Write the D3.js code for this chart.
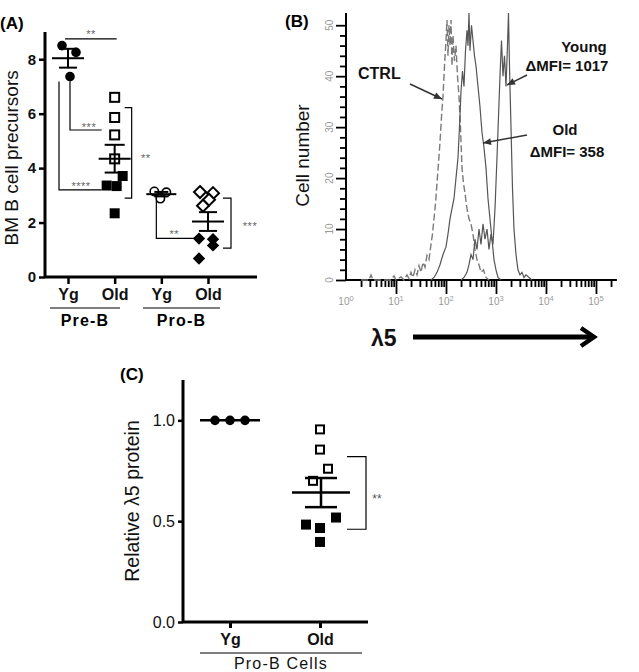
<!DOCTYPE html>
<html><head><meta charset="utf-8">
<script src="https://cdn.jsdelivr.net/npm/d3@7"></script>
<style>
body{margin:0;background:#fff;}
svg text{font-family:Arial,"Liberation Sans",Helvetica,sans-serif;}
</style></head>
<body><svg id="fig" width="639" height="672"></svg>
<script>
// ---------- Panel A data ----------
const categoriesA = ["Pre-B Yg","Pre-B Old","Pro-B Yg","Pro-B Old"];
const tickLabelsA = ["Yg","Old","Yg","Old"];
const groupLabelsA = ["Pre-B","Pro-B"];
const preBYoung = [8.50, 8.25, 7.36];
const preBYoungDx = [-6, 8, 2];
const preBOldOpenVals = [6.60, 5.86, 5.22, 4.34];
const preBOldOpenDx = [0, 0, 0, 0];
const preBOldFilledVals = [3.71, 3.36, 3.34, 2.34];
const preBOldFilledDx = [8, -8, 2, 0];
const proBYoung = [3.14, 3.11, 2.88];
const proBYoungDx = [-7, 5, -1];
const proBOldOpenVals = [3.12, 3.08, 2.84, 2.62];
const proBOldOpenDx = [-8, 5, 1, -5];
const proBOldFilledVals = [1.41, 1.39, 1.16, 0.68];
const proBOldFilledDx = [-9, 5, 5, -9];
const yTickValsA = [0, 2, 4, 6, 8];

// ---------- Panel B data (log10 intensity, cell count) ----------
const ctrlCounts = [[0.30,0],[0.46,0],[0.50,1],[0.54,0],[0.90,0],[0.96,0.8],[1.00,0],[1.10,0.6],[1.16,0],[1.22,1],[1.26,0.3],[1.30,1.5],[1.34,0.5],
 [1.38,2],[1.42,1],[1.46,2.8],[1.50,1.5],[1.54,3.5],[1.58,2.5],[1.62,4.8],[1.66,4],[1.70,7],[1.73,9],[1.76,12],[1.79,15],
 [1.82,19],[1.85,23],[1.88,27],[1.91,32],[1.94,36],[1.97,42],[2.00,47],[2.02,51],[2.04,44],[2.06,50],[2.08,46],[2.10,51],
 [2.12,42],[2.14,48],[2.17,43],[2.20,46],[2.23,40],[2.26,36],[2.29,30],[2.32,22],[2.35,19],[2.38,17],[2.42,14],[2.46,12],
 [2.50,11],[2.54,9],[2.58,6],[2.62,4],[2.66,3],[2.70,1.5],[2.75,2],[2.80,0.5],[2.86,0]];
const oldCounts = [[1.70,0],[1.76,0.5],[1.82,1.5],[1.88,3],[1.94,5],[2.00,6.5],[2.04,9],[2.08,12],[2.12,14],[2.16,16],[2.20,20],
 [2.24,24],[2.27,30],[2.30,37],[2.33,41],[2.36,38],[2.39,45],[2.42,49],[2.44,46],[2.46,53],[2.48,45],[2.51,50],[2.54,47],
 [2.57,44],[2.60,42],[2.64,38],[2.68,34],[2.72,29],[2.76,26],[2.80,22],[2.84,16],[2.88,12],[2.92,8],[2.96,4],[3.00,2],[3.04,0.5],[3.10,0]];
const youngCounts = [[2.30,0],[2.36,0.5],[2.42,1.5],[2.46,3],[2.50,5],[2.54,4],[2.58,8],[2.62,6],[2.66,10],[2.70,7],[2.74,11],
 [2.78,8],[2.82,10],[2.86,6],[2.90,9],[2.94,7],[2.98,14],[3.02,24],[3.05,32],[3.08,40],[3.11,47],[3.14,40],[3.17,44],
 [3.20,38],[3.23,46],[3.25,53],[3.27,42],[3.30,30],[3.33,18],[3.36,10],[3.40,5],[3.44,2],[3.48,1],[3.52,1.5],[3.56,0.5],[3.60,1],[3.66,0.5],[3.72,0]];
const xDecadesB = [0, 1, 2, 3, 4, 5];
const yTickValsB = [0, 10, 20, 30, 40, 50];

// ---------- Panel C data ----------
const categoriesC = ["Yg","Old"];
const cYoung = [1.0, 1.0, 1.0];
const cYoungDx = [-15, 0, 15];
const cOldOpenVals = [0.955, 0.855, 0.76, 0.70];
const cOldOpenDx = [0, 0, 8, -7];
const cOldFilledVals = [0.518, 0.483, 0.466, 0.397];
const cOldFilledDx = [16, -14, 0, 0];
const yTickValsC = [0.0, 0.5, 1.0];

const svg = d3.select("#fig");
const mean = a => d3.mean(a);
const sem = a => d3.deviation(a) / Math.sqrt(a.length);

// ================= PANEL B (drawn first) =================
const panelB = svg.append("g");
const xB = d3.scaleLog().domain([1, 262144]).range([346, 616.9]);
const yB = d3.scaleLinear().domain([0, 52.4]).range([280, 13]).clamp(true);
const yMinorB = d3.range(0, 52, 2);
const minorB = [];
for (let e = 0; e <= 5; e++) for (let k = 1; k <= 9; k++) { const v = k * Math.pow(10, e); if (v <= 262144 && v > 1) minorB.push(v); }
const isMajor = d => Math.abs(Math.log10(d) - Math.round(Math.log10(d))) < 1e-9;

const bAxisY = panelB.append("g").attr("transform", `translate(${xB(1)},0)`)
  .call(d3.axisLeft(yB).tickValues(yMinorB).tickSize(6).tickFormat(() => ""));
bAxisY.select(".domain").attr("d", `M0,${yB(52.4)}V${yB(0)}`).attr("stroke", "#000").attr("stroke-width", 2);
bAxisY.selectAll(".tick line").attr("stroke", "#000").attr("stroke-width", 1.8).attr("x2", d => d % 10 === 0 ? -10 : -6);

const bAxisX = panelB.append("g").attr("transform", `translate(0,${yB(0)})`)
  .call(d3.axisBottom(xB).tickValues(minorB).tickSize(7).tickFormat(() => ""));
bAxisX.select(".domain").attr("d", `M${xB(1)},0H${xB(262144)}`).attr("stroke", "#000").attr("stroke-width", 2);
bAxisX.selectAll(".tick line").attr("stroke", "#000").attr("stroke-width", 1.8).attr("y2", d => isMajor(d) ? 14 : 7);

panelB.selectAll(".blab").data(yTickValsB).join("text").attr("class", "blab")
  .attr("transform", d => `translate(${xB(1) - 13},${yB(d)}) rotate(-90)`).attr("text-anchor", "middle")
  .attr("font-size", 10).attr("fill", "#999").text(d => d);
const xLab = panelB.selectAll(".bxl").data(xDecadesB).join("text").attr("class", "bxl")
  .attr("x", d => xB(Math.pow(10, d))).attr("y", yB(0) + 25).attr("text-anchor", "middle")
  .attr("font-size", 10).attr("fill", "#999");
xLab.append("tspan").text("10");
xLab.append("tspan").attr("dy", -4).attr("font-size", 7.5).text(d => d);

const lineB = d3.line().x(d => xB(Math.pow(10, d[0]))).y(d => yB(d[1]));
panelB.append("path").attr("d", lineB(ctrlCounts)).attr("fill", "none").attr("stroke", "#7a7a7a").attr("stroke-width", 1.4).attr("stroke-dasharray", "7,3");
panelB.append("path").attr("d", lineB(oldCounts)).attr("fill", "none").attr("stroke", "#555").attr("stroke-width", 1.2);
panelB.append("path").attr("d", lineB(youngCounts)).attr("fill", "none").attr("stroke", "#555").attr("stroke-width", 1.2);

panelB.append("text").attr("x", 285).attr("y", 27).attr("font-size", 17).attr("font-weight", "bold").text("(B)");
panelB.append("text").attr("transform", `translate(309,${(yB(52) + yB(0)) / 2 + 8}) rotate(-90)`)
  .attr("text-anchor", "middle").attr("font-size", 19).attr("fill", "#111").text("Cell number");

const arrowB = (x1, y1, x2, y2) => {
  panelB.append("line").attr("x1", x1).attr("y1", y1).attr("x2", x2).attr("y2", y2).attr("stroke", "#333").attr("stroke-width", 1.5);
  const a = Math.atan2(y2 - y1, x2 - x1) * 180 / Math.PI;
  panelB.append("path").attr("d", "M0,0L-8,-3.5L-8,3.5Z").attr("fill", "#333")
    .attr("transform", `translate(${x2},${y2}) rotate(${a})`);
};
const labB = (x, y, t, anchor = "start", fs = 15) => panelB.append("text").attr("x", x).attr("y", y).attr("text-anchor", anchor)
  .attr("font-size", fs).attr("font-weight", "bold").attr("fill", "#111").text(t);
labB(358, 79, "CTRL", "start", 16);
arrowB(410, 84, 442, 99);
labB(584, 52, "Young", "middle");
labB(567, 71, "ΔMFI= 1017", "middle");
arrowB(527, 75, 507, 85);
labB(565, 135, "Old", "middle");
labB(567, 157, "ΔMFI= 358", "middle");
arrowB(527, 135, 483, 143);

panelB.append("text").attr("x", 371).attr("y", 346).attr("font-size", 23).attr("font-weight", "bold").attr("fill", "#111").text("λ5");
panelB.append("rect").attr("x", 413).attr("y", 334.5).attr("width", 178).attr("height", 5).attr("fill", "#000");
panelB.append("path").attr("d", "M581,328L594,337L581,346").attr("fill", "none").attr("stroke", "#000").attr("stroke-width", 4.5);

// ================= PANEL A =================
const panelA = svg.append("g");
const xA = d3.scalePoint().domain(categoriesA).range([68, 208]);
const yA = d3.scaleLinear().domain([0, 9]).range([277, 32]);

panelA.append("text").attr("x", 0).attr("y", 29).attr("font-size", 17).attr("font-weight", "bold").text("(A)");

const aAxisY = panelA.append("g").attr("transform", "translate(45,0)")
  .call(d3.axisLeft(yA).tickValues(yTickValsA).tickFormat(d3.format("d")).tickSize(6).tickPadding(3));
aAxisY.select(".domain").attr("d", `M0,${yA(9)}V${yA(0)}`).attr("stroke-width", 3);
aAxisY.selectAll(".tick line").attr("stroke-width", 2.5);
aAxisY.selectAll(".tick text").attr("font-size", 15).attr("font-weight", "bold").attr("fill", "#111");

const aAxisX = panelA.append("g").attr("transform", `translate(0,${yA(0)})`)
  .call(d3.axisBottom(xA).tickSize(7).tickFormat((d, i) => tickLabelsA[i]).tickPadding(5));
aAxisX.select(".domain").attr("d", "M45,0H257").attr("stroke-width", 3);
aAxisX.selectAll(".tick line").attr("stroke-width", 2.5);
aAxisX.selectAll(".tick text").attr("font-size", 16).attr("font-weight", "bold").attr("fill", "#111");

[[50, 120, groupLabelsA[0]], [143, 220, groupLabelsA[1]]].forEach(([a, b, t]) => {
  panelA.append("line").attr("x1", a).attr("x2", b).attr("y1", 308).attr("y2", 308).attr("stroke", "#000").attr("stroke-width", 1.2);
  panelA.append("text").attr("x", (a + b) / 2).attr("y", 326).attr("text-anchor", "middle")
    .attr("font-size", 16).attr("font-weight", "bold").attr("letter-spacing", 1.2).text(t);
});

panelA.append("text").attr("transform", `translate(18,${(yA(8.9) + yA(0)) / 2 + 2}) rotate(-90)`)
  .attr("text-anchor", "middle").attr("font-size", 19).attr("fill", "#111").text("BM B cell precursors");

function meanBarA(x, vals, halfW, capW) {
  const m = mean(vals), s = sem(vals);
  panelA.append("line").attr("x1", x - halfW).attr("x2", x + halfW).attr("y1", yA(m)).attr("y2", yA(m)).attr("stroke", "#000").attr("stroke-width", 2);
  panelA.append("line").attr("x1", x).attr("x2", x).attr("y1", yA(m - s)).attr("y2", yA(m + s)).attr("stroke", "#000").attr("stroke-width", 2);
  [m - s, m + s].forEach(v => panelA.append("line").attr("x1", x - capW).attr("x2", x + capW).attr("y1", yA(v)).attr("y2", yA(v)).attr("stroke", "#000").attr("stroke-width", 2));
}
const diamond = r => `M0,${-r}L${r},0L0,${r}L${-r},0Z`;

panelA.selectAll(".a0").data(preBYoung).join("circle").attr("class", "a0")
  .attr("cx", (d, i) => xA(categoriesA[0]) + preBYoungDx[i]).attr("cy", d => yA(d)).attr("r", 4.8).attr("fill", "#000");
meanBarA(xA(categoriesA[0]), preBYoung, 16, 9);
panelA.selectAll(".a1").data(preBOldOpenVals).join("rect").attr("class", "a1")
  .attr("x", (d, i) => xA(categoriesA[1]) + preBOldOpenDx[i] - 4.5).attr("y", d => yA(d) - 4.5)
  .attr("width", 9).attr("height", 9).attr("fill", "#fff").attr("stroke", "#000").attr("stroke-width", 2);
panelA.selectAll(".a2").data(preBOldFilledVals).join("rect").attr("class", "a2")
  .attr("x", (d, i) => xA(categoriesA[1]) + preBOldFilledDx[i] - 5).attr("y", d => yA(d) - 5)
  .attr("width", 10).attr("height", 10).attr("fill", "#000");
meanBarA(xA(categoriesA[1]), preBOldOpenVals.concat(preBOldFilledVals), 16, 10);
panelA.selectAll(".a3").data(proBYoung).join("circle").attr("class", "a3")
  .attr("cx", (d, i) => xA(categoriesA[2]) + proBYoungDx[i]).attr("cy", d => yA(d)).attr("r", 4.2)
  .attr("fill", "#fff").attr("stroke", "#000").attr("stroke-width", 1.6);
meanBarA(xA(categoriesA[2]), proBYoung, 15, 7);
panelA.selectAll(".a4").data(proBOldOpenVals).join("path").attr("class", "a4")
  .attr("transform", (d, i) => `translate(${xA(categoriesA[3]) + proBOldOpenDx[i]},${yA(d)})`).attr("d", diamond(6))
  .attr("fill", "#fff").attr("stroke", "#000").attr("stroke-width", 2);
panelA.selectAll(".a5").data(proBOldFilledVals).join("path").attr("class", "a5")
  .attr("transform", (d, i) => `translate(${xA(categoriesA[3]) + proBOldFilledDx[i]},${yA(d)})`).attr("d", diamond(6.2))
  .attr("fill", "#000");
meanBarA(xA(categoriesA[3]), proBOldOpenVals.concat(proBOldFilledVals), 16, 9);

const bracket = d => panelA.append("path").attr("d", d).attr("fill", "none").attr("stroke", "#000").attr("stroke-width", 1.2);
const stars = (x, y, t) => panelA.append("text").attr("x", x).attr("y", y).attr("text-anchor", "middle")
  .attr("font-size", 11).attr("fill", "#666").attr("letter-spacing", 0.5).text(t);
const xa = i => xA(categoriesA[i]);
bracket(`M${xa(0) - 3},${yA(8.75)}H${xa(1) + 2}`); stars(xa(0) + 23, yA(8.75) - 1, "**");
bracket(`M${xa(0) + 2},${yA(7.18)}V${yA(5.4)}H${xa(1) - 13}`); stars(xa(0) + 21, yA(5.4) + 1, "***");
bracket(`M${xa(0) - 9},${yA(7.18)}V${yA(3.2)}H${xa(1) - 13}`); stars(xa(0) + 13, yA(3.2), "****");
bracket(`M${xa(1) + 10},${yA(6.22)}H${xa(1) + 17}V${yA(2.9)}H${xa(1) + 10}`); stars(xa(1) + 31, yA(4.5) + 7, "**");
bracket(`M${xa(2) - 5},${yA(2.82)}V${yA(1.42)}H${xa(3) - 11}`); stars(xa(2) + 13, yA(1.42), "**");
bracket(`M${xa(3) + 15},${yA(2.9)}H${xa(3) + 23}V${yA(1.06)}H${xa(3) + 15}`); stars(xa(3) + 42, yA(1.98) + 7, "***");

// ================= PANEL C =================
const panelC = svg.append("g");
const xC = d3.scalePoint().domain(categoriesC).range([230, 320]);
const yC = d3.scaleLinear().domain([0, 1.2]).range([622, 380]);

panelC.append("text").attr("x", 120).attr("y", 380).attr("font-size", 17).attr("font-weight", "bold").text("(C)");

const cAxisY = panelC.append("g").attr("transform", "translate(183,0)")
  .call(d3.axisLeft(yC).tickValues(yTickValsC).tickFormat(d3.format(".1f")).tickSize(5).tickPadding(3));
cAxisY.select(".domain").attr("d", `M0,${yC(1.2)}V${yC(0)}`).attr("stroke-width", 3);
cAxisY.selectAll(".tick line").attr("stroke-width", 2.5);
cAxisY.selectAll(".tick text").attr("font-size", 16).attr("fill", "#111");

const cAxisX = panelC.append("g").attr("transform", `translate(0,${yC(0)})`)
  .call(d3.axisBottom(xC).tickSize(6).tickPadding(6));
cAxisX.select(".domain").attr("d", "M183,0H368").attr("stroke-width", 3);
cAxisX.selectAll(".tick line").attr("stroke-width", 3);
cAxisX.selectAll(".tick text").attr("font-size", 16).attr("font-weight", "bold").attr("fill", "#111");

panelC.append("line").attr("x1", 200).attr("x2", 362).attr("y1", 653).attr("y2", 653).attr("stroke", "#000").attr("stroke-width", 1.2);
panelC.append("text").attr("x", 281).attr("y", 669).attr("text-anchor", "middle").attr("font-size", 16)
  .attr("letter-spacing", 1.2).attr("fill", "#111").text("Pro-B Cells");
panelC.append("text").attr("transform", `translate(139,${(yC(1.2) + yC(0)) / 2}) rotate(-90)`)
  .attr("text-anchor", "middle").attr("font-size", 19.5).attr("fill", "#111").text("Relative λ5 protein");

function meanBarC(x, vals, halfW, capW) {
  const m = mean(vals), s = sem(vals);
  panelC.append("line").attr("x1", x - halfW).attr("x2", x + halfW).attr("y1", yC(m)).attr("y2", yC(m)).attr("stroke", "#000").attr("stroke-width", 2.5);
  if (s > 0) {
    panelC.append("line").attr("x1", x).attr("x2", x).attr("y1", yC(m - s)).attr("y2", yC(m + s)).attr("stroke", "#000").attr("stroke-width", 2.5);
    [m - s, m + s].forEach(v => panelC.append("line").attr("x1", x - capW).attr("x2", x + capW).attr("y1", yC(v)).attr("y2", yC(v)).attr("stroke", "#000").attr("stroke-width", 2.5));
  }
}
meanBarC(xC("Yg"), cYoung, 30, 0);
panelC.selectAll(".c0").data(cYoung).join("circle").attr("class", "c0")
  .attr("cx", (d, i) => xC("Yg") + cYoungDx[i]).attr("cy", d => yC(d)).attr("r", 4.8).attr("fill", "#000");
panelC.selectAll(".c1").data(cOldOpenVals).join("rect").attr("class", "c1")
  .attr("x", (d, i) => xC("Old") + cOldOpenDx[i] - 4).attr("y", d => yC(d) - 4)
  .attr("width", 8).attr("height", 8).attr("fill", "#fff").attr("stroke", "#000").attr("stroke-width", 2);
panelC.selectAll(".c2").data(cOldFilledVals).join("rect").attr("class", "c2")
  .attr("x", (d, i) => xC("Old") + cOldFilledDx[i] - 5).attr("y", d => yC(d) - 5)
  .attr("width", 10).attr("height", 10).attr("fill", "#000");
meanBarC(xC("Old") + 1, cOldOpenVals.concat(cOldFilledVals), 29, 16);

panelC.append("path").attr("d", `M${xC("Old") + 27},${yC(0.82)}H${xC("Old") + 46}V${yC(0.46)}H${xC("Old") + 27}`)
  .attr("fill", "none").attr("stroke", "#000").attr("stroke-width", 1.2);
panelC.append("text").attr("x", xC("Old") + 57).attr("y", yC(0.62) + 6).attr("text-anchor", "middle")
  .attr("font-size", 12).attr("fill", "#555").text("**");
</script></body></html>
